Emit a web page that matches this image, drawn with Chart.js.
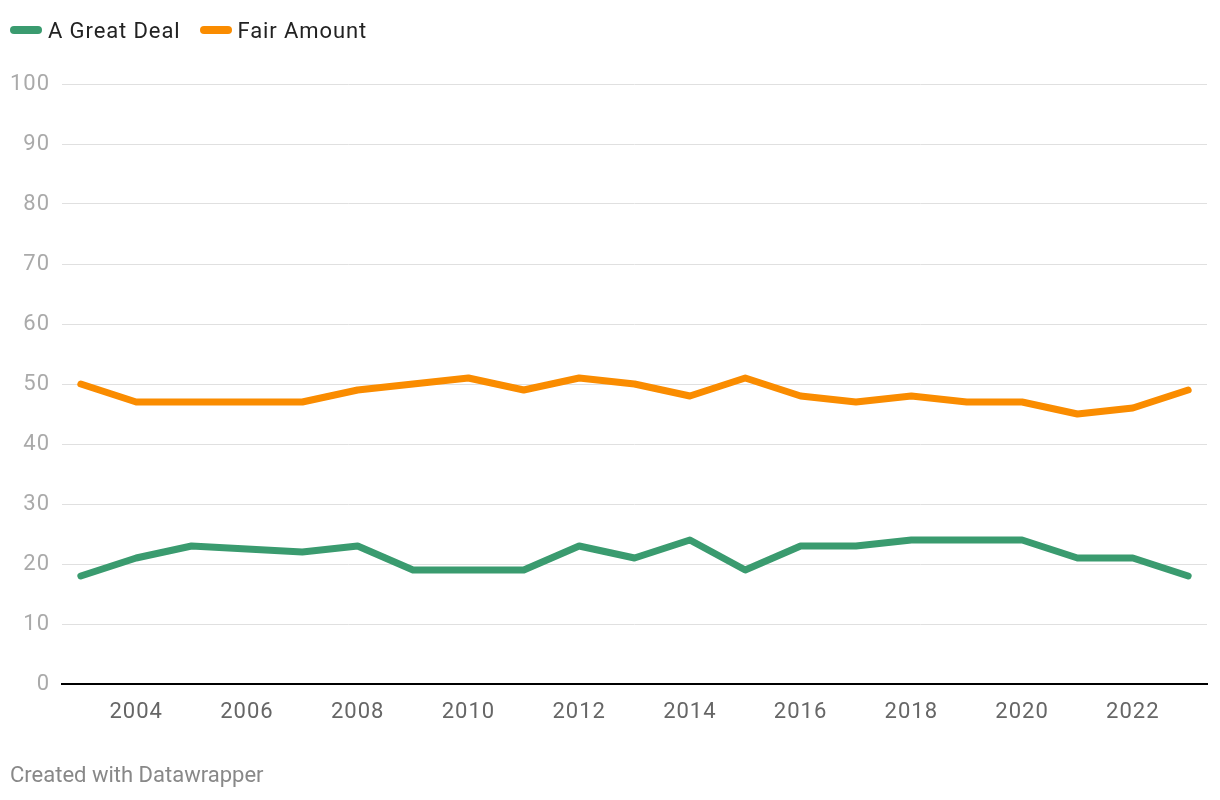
<!DOCTYPE html>
<html>
<head>
<meta charset="utf-8">
<script src="https://cdn.jsdelivr.net/npm/chart.js@4.4.1/dist/chart.umd.min.js"></script>
<style>
  html, body { margin: 0; padding: 0; background: #fff; width: 1220px; height: 800px; overflow: hidden; font-family: Roboto, "Noto Sans", sans-serif; }
  #wrap { position: absolute; left: 0; top: 0; width: 1220px; height: 800px; }
  #legend { position: absolute; left: 10px; top: 16px; height: 28px; display: flex; align-items: center; font-size: 22px; letter-spacing: 0.9px; color: #222; }
  .item { display: flex; align-items: center; margin-right: 19px; }
  .sw { width: 32px; height: 8px; border-radius: 4px; margin-right: 6px; }
  #footer { position: absolute; left: 10px; top: 762px; font-size: 22px; color: #888; }
</style>
</head>
<body>
<div id="wrap">
  <canvas id="c" width="1220" height="800"></canvas>
  <div id="legend"></div>
  <div id="footer">Created with Datawrapper</div>
</div>
<script>
const years = [2003,2004,2005,2006,2007,2008,2009,2010,2011,2012,2013,2014,2015,2016,2017,2018,2019,2020,2021,2022,2023];
const greatDeal = [18,21,23,22.5,22,23,19,19,19,23,21,24,19,23,23,24,24,24,21,21,18];
const fairAmount = [50,47,47,47,47,49,50,51,49,51,50,48,51,48,47,48,47,47,45,46,49];
const seriesNames = ["A Great Deal", "Fair Amount"];
const seriesColors = ["#3a9b6f", "#fa8c00"];
const xTickYears = [2004,2006,2008,2010,2012,2014,2016,2018,2020,2022];
const yTicks = [0,10,20,30,40,50,60,70,80,90,100];

const legend = document.getElementById('legend');
seriesNames.forEach((n, i) => {
  const it = document.createElement('div'); it.className = 'item';
  const sw = document.createElement('div'); sw.className = 'sw'; sw.style.background = seriesColors[i];
  const tx = document.createElement('span'); tx.textContent = n;
  it.appendChild(sw); it.appendChild(tx); legend.appendChild(it);
});

const toPts = arr => arr.map((v, i) => ({x: years[i], y: v}));

const spacingPlugin = {
  id: 'spacing',
  beforeInit(chart) { chart.ctx.letterSpacing = '1px'; },
  beforeDraw(chart) { chart.ctx.letterSpacing = '1px'; }
};

new Chart(document.getElementById('c'), {
  type: 'line',
  plugins: [spacingPlugin],
  data: {
    datasets: [
      { label: seriesNames[0], data: toPts(greatDeal), borderColor: seriesColors[0], borderWidth: 7, pointRadius: 0, tension: 0, borderJoinStyle: 'round', borderCapStyle: 'round', clip: false },
      { label: seriesNames[1], data: toPts(fairAmount), borderColor: seriesColors[1], borderWidth: 7, pointRadius: 0, tension: 0, borderJoinStyle: 'round', borderCapStyle: 'round', clip: false }
    ]
  },
  options: {
    responsive: false,
    animation: false,
    layout: { padding: { top: 84, right: 13, left: 0, bottom: 0 } },
    plugins: { legend: { display: false }, tooltip: { enabled: false } },
    scales: {
      x: {
        type: 'linear',
        min: 2002.66,
        max: 2023.34,
        afterBuildTicks: s => { s.ticks = xTickYears.map(v => ({value: v})); },
        afterFit: s => { s.height = 116; },
        grid: { display: false, drawTicks: false },
        border: { display: true, color: '#000', width: 2 },
        ticks: { padding: 15, color: '#666', font: { family: 'Roboto', size: 22 }, maxRotation: 0, autoSkip: false, callback: v => String(v) }
      },
      y: {
        min: 0,
        max: 100,
        afterBuildTicks: s => { s.ticks = yTicks.map(v => ({value: v})); },
        afterFit: s => { s.width = 62; },
        grid: { color: '#e0e0e0', lineWidth: 1, drawTicks: false },
        border: { display: false },
        ticks: { padding: 12, color: '#aaa', font: { family: 'Roboto', size: 22 }, callback: v => String(v) }
      }
    }
  }
});
</script>
</body>
</html>
